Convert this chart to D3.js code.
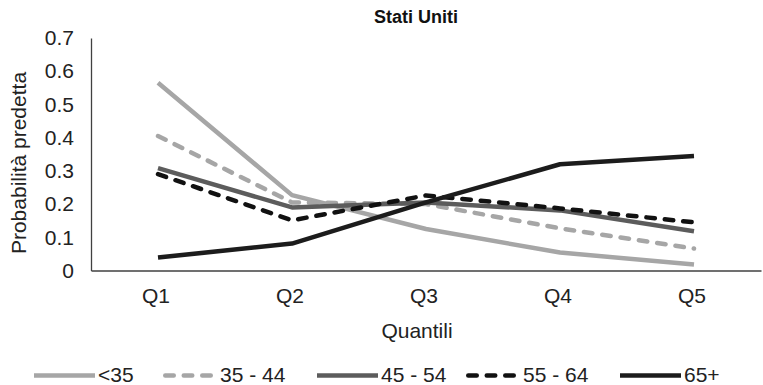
<!DOCTYPE html>
<html><head><meta charset="utf-8">
<script src="https://cdn.jsdelivr.net/npm/d3@7"></script>
<style>body{margin:0;background:#fff}svg{display:block;font-family:"Liberation Sans",Arial,sans-serif}</style>
</head><body><svg id="c" width="763" height="385"></svg>
<script>
const categories = ["Q1","Q2","Q3","Q4","Q5"];
const seriesNames = ["<35","35-44","45-54","55-64","65+"];
const s_lt35 = [0.565,0.227,0.125,0.054,0.018];
const s_35_44 = [0.405,0.205,0.200,0.127,0.066];
const s_45_54 = [0.308,0.190,0.205,0.181,0.118];
const s_55_64 = [0.290,0.151,0.226,0.187,0.145];
const s_65p = [0.039,0.081,0.205,0.320,0.345];
const yTicks = [0,0.1,0.2,0.3,0.4,0.5,0.6,0.7];
const legendLabels = ["<35","35 - 44","45 - 54","55 - 64","65+"];

const series = [
  {name:seriesNames[0], values:s_lt35, color:"#a6a6a6", dash:null},
  {name:seriesNames[1], values:s_35_44, color:"#a6a6a6", dash:"8.5,10"},
  {name:seriesNames[2], values:s_45_54, color:"#5c5c5c", dash:null},
  {name:seriesNames[3], values:s_55_64, color:"#111111", dash:"8.5,10"},
  {name:seriesNames[4], values:s_65p, color:"#1c1c1c", dash:null}
];

const FS = 21;
const svg = d3.select("#c");
const m = {left:91, right:761, top:38, bottom:270.5};
const x = d3.scaleBand().domain(categories).range([m.left, m.right]);
const y = d3.scaleLinear().domain([0,0.7]).range([m.bottom, m.top]);

// axes
const yAxis = svg.append("g").attr("transform",`translate(${m.left},0)`)
  .call(d3.axisLeft(y).tickValues(yTicks).tickSize(0).tickPadding(17).tickFormat(d=>d===0?"0":d3.format(".1f")(d)));
yAxis.select(".domain").attr("stroke","#404040").attr("stroke-width",1.3);
yAxis.selectAll("text").attr("font-size",FS).attr("fill","#222").attr("font-family","Liberation Sans, Arial, sans-serif");

const xAxis = svg.append("g").attr("transform",`translate(0,${m.bottom})`)
  .call(d3.axisBottom(x).tickSize(0).tickPadding(0));
xAxis.select(".domain").attr("stroke","#404040").attr("stroke-width",1.3);
xAxis.selectAll("text").attr("font-size",FS).attr("fill","#222").attr("font-family","Liberation Sans, Arial, sans-serif")
  .attr("dy",null).attr("y",32).attr("dx",-2);

// lines
const line = d3.line().x((d,i)=>x(categories[i])+x.bandwidth()/2).y(d=>y(d));
series.forEach(s=>{
  svg.append("path").datum(s.values).attr("d",line)
    .attr("fill","none").attr("stroke",s.color).attr("stroke-width",4.5)
    .attr("stroke-dasharray",s.dash).attr("stroke-linecap",s.dash?"round":"butt")
    .attr("stroke-linejoin","round");
});

// title & labels
svg.append("text").attr("x",416).attr("y",23).attr("text-anchor","middle")
  .attr("font-size",18).attr("font-weight","bold").attr("fill","#111").text("Stati Uniti");
svg.append("text").attr("transform","translate(26,163) rotate(-90)").attr("text-anchor","middle")
  .attr("font-size",FS).attr("fill","#222").text("Probabilità predetta");
svg.append("text").attr("x",417).attr("y",338).attr("text-anchor","middle")
  .attr("font-size",FS).attr("fill","#222").text("Quantili");

// legend
const legX = [34,163,317,466,620];
const lg = svg.append("g");
series.forEach((s,i)=>{
  const w = s.dash ? 52 : 61;
  const off = s.dash ? 2.25 : 0;
  lg.append("line").attr("x1",legX[i]+off).attr("x2",legX[i]+w).attr("y1",375.5).attr("y2",375.5)
    .attr("stroke",s.color).attr("stroke-width",4.5).attr("stroke-dasharray",s.dash)
    .attr("stroke-linecap",s.dash?"round":"butt");
  lg.append("text").attr("x",legX[i]+(s.dash?57:64)).attr("y",382).attr("font-size",FS).attr("fill","#222")
    .text(legendLabels[i]);
});
</script></body></html>
